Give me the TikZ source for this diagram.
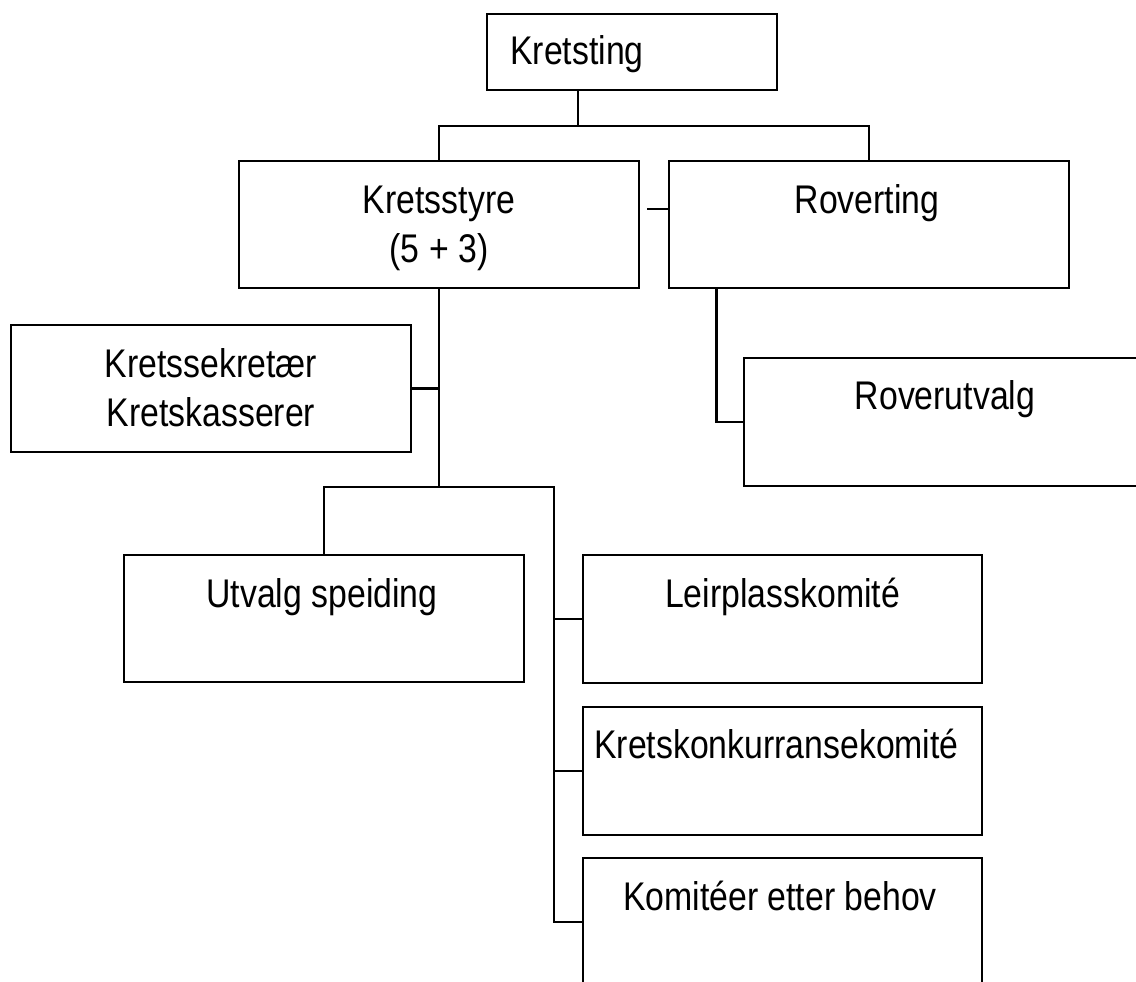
\documentclass[tikz,border=0pt]{standalone}
\usepackage{fontspec}
\setmainfont{Liberation Sans}[FakeStretch=0.845]
\newcommand{\bxt}[3]{\raisebox{#1}[0pt][0pt]{\makebox[0pt]{\kern#2\begin{tabular}[t]{@{}c@{}}#3\end{tabular}}}}
\tikzset{
  orgbox/.style={draw, line width=2.2pt, rectangle, inner sep=0pt,
    minimum width=400pt, minimum height=127pt,
    font=\fontsize{40}{49}\selectfont},
  conn/.style={line width=2.2pt}
}
\begin{document}
\begin{tikzpicture}[x=1pt, y=-1pt]
\useasboundingbox (0,0) rectangle (1136,982);
% boxes
\node[orgbox, minimum width=290pt, minimum height=76pt] (kt) at (632,52) {\bxt{-13pt}{-110pt}{Kretsting}};
\node[orgbox] (ks) at (439,224.5) {\bxt{11.5pt}{0pt}{Kretsstyre\\(5 + 3)}};
\node[orgbox] (rt) at (869,224.5) {\bxt{11.5pt}{-4pt}{Roverting}};
\node[orgbox] (sek) at (211,388.5) {\bxt{11.5pt}{0pt}{Kretssekretær\\Kretskasserer}};
\node[orgbox, minimum width=402pt, minimum height=128pt] (ru) at (945,422) {\bxt{12.5pt}{0pt}{Roverutvalg}};
\node[orgbox] (us) at (324,618.5) {\bxt{11.5pt}{-4pt}{Utvalg speiding}};
\node[orgbox, minimum width=399pt, minimum height=128pt] (lp) at (782.5,619) {\bxt{12pt}{0pt}{Leirplasskomité}};
\node[orgbox, minimum width=399pt, minimum height=128pt] (kk) at (782.5,771) {\bxt{13pt}{-12pt}{Kretskonkurransekomité}};
\node[orgbox, minimum width=399pt, minimum height=128pt] (ko) at (782.5,922) {\bxt{12pt}{-5pt}{Komitéer etter behov}};
% junction coordinates
\coordinate (j1) at (578,126);
\coordinate (s1) at (647,209);
\coordinate (j2) at (439,487);
\coordinate (j3) at (554,487);
% connectors
\draw[conn] ([xshift=-54pt]kt.south) -- (j1);
\draw[conn] (ks.north) -- (ks.north |- j1) -- (rt.north |- j1) -- (rt.north);
\draw[conn] (s1) -- (s1 -| rt.west);
\draw[conn] (ks.south) -- (j2);
\draw[conn] (sek.east) -- (sek.east -| ks.south);
\draw[conn] (us.north) -- (us.north |- j2) -- (j3) -- (j3 |- ko.west) -- (ko.west);
\draw[conn] (j3 |- lp.west) -- (lp.west);
\draw[conn] (j3 |- kk.west) -- (kk.west);
\draw[conn] ([xshift=48.5pt]rt.south west) |- (ru.west);
\end{tikzpicture}
\end{document}
